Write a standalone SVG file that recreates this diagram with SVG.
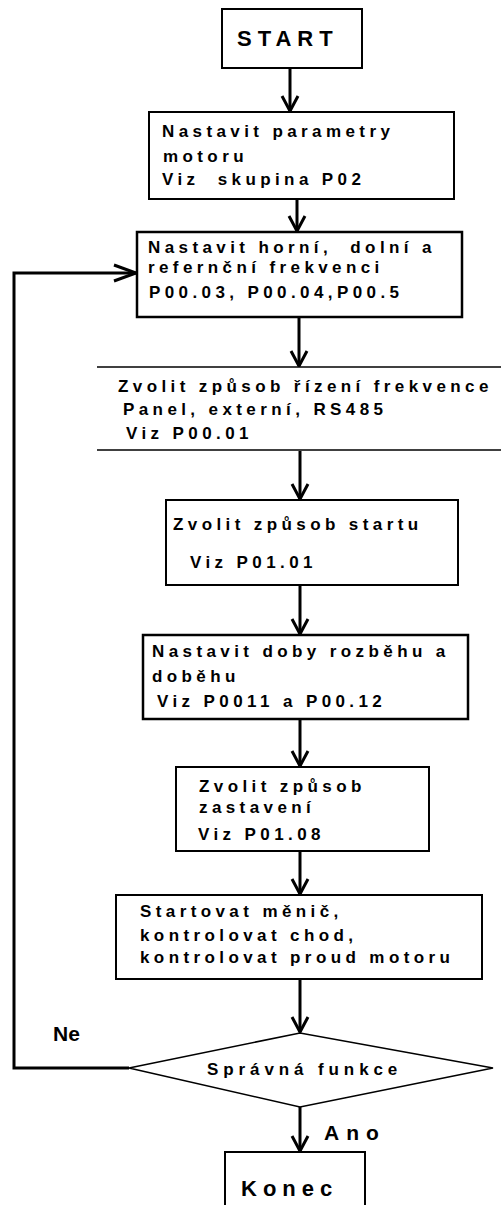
<svg xmlns="http://www.w3.org/2000/svg" width="501" height="1205" viewBox="0 0 501 1205">
<style>
.bx{fill:#fff;stroke:#000;stroke-width:2}
.ln{fill:none;stroke:#000;stroke-width:1.6}
.t{font-family:"Liberation Sans",Arial,sans-serif;font-weight:bold;font-size:17px;letter-spacing:4.4px;fill:#000;white-space:pre}
.big{font-size:22px;letter-spacing:6px}
.c{fill:none;stroke:#000;stroke-width:3}
</style>
<defs>
<marker id="ah" markerUnits="userSpaceOnUse" markerWidth="40" markerHeight="40" refX="16" refY="9" orient="auto" overflow="visible">
<path d="M1,1 L16,9 L1,17" fill="none" stroke="#000" stroke-width="3"/>
</marker>
<marker id="ahl" markerUnits="userSpaceOnUse" markerWidth="40" markerHeight="40" refX="23" refY="9" orient="auto" overflow="visible">
<path d="M1,1 L23,9 L1,17" fill="none" stroke="#000" stroke-width="3"/>
</marker>
</defs>
<rect width="501" height="1205" fill="#fff"/>
<g id="connectors">
<line class="c" x1="290" y1="68" x2="290" y2="111" marker-end="url(#ah)"/>
<line class="c" x1="297" y1="199" x2="297" y2="231" marker-end="url(#ah)"/>
<line class="c" x1="299" y1="317" x2="299" y2="366" marker-end="url(#ah)"/>
<line class="c" x1="300" y1="451" x2="300" y2="499" marker-end="url(#ah)"/>
<line class="c" x1="300" y1="585" x2="300" y2="634" marker-end="url(#ah)"/>
<line class="c" x1="300" y1="719" x2="300" y2="766" marker-end="url(#ah)"/>
<line class="c" x1="300" y1="851" x2="300" y2="894" marker-end="url(#ah)"/>
<line class="c" x1="300" y1="979" x2="300" y2="1032" marker-end="url(#ah)"/>
<line class="c" x1="300" y1="1107" x2="300" y2="1151" marker-end="url(#ah)"/>
<polyline class="c" points="129,1068 14,1068 14,273 136,273" marker-end="url(#ahl)"/>
<text class="t" x="53" y="1041" style="font-size:21px;letter-spacing:0">Ne</text>
<text class="t" x="324" y="1140" style="font-size:21px;letter-spacing:7px">Ano</text>
</g>
<g id="start">
<rect class="bx" x="222" y="9" width="140" height="59"/>
<text class="t big" x="237" y="46">START</text>
</g>
<g id="motor">
<rect class="bx" x="149" y="112" width="305" height="87"/>
<text class="t" x="162" y="137">Nastavit parametry</text>
<text class="t" x="163" y="162">motoru</text>
<text class="t" x="162" y="185">Viz  skupina P02</text>
</g>
<g id="freq">
<rect class="bx" x="137" y="232" width="325" height="85" style="stroke-width:2.5"/>
<text class="t" x="148" y="253">Nastavit horní,  dolní a</text>
<text class="t" x="148" y="273">refernční frekvenci</text>
<text class="t" x="149" y="298">P00.03, P00.04,P00.5</text>
</g>
<g id="control">
<rect x="97" y="367" width="410" height="83" fill="#fff"/>
<line class="ln" x1="97" y1="367" x2="501" y2="367"/>
<line class="ln" x1="97" y1="450" x2="501" y2="450"/>
<text class="t" x="118" y="392">Zvolit způsob řízení frekvence</text>
<text class="t" x="123" y="415">Panel, externí, RS485</text>
<text class="t" x="126" y="439">Viz P00.01</text>
</g>
<g id="startmode">
<rect class="bx" x="166" y="500" width="292" height="85"/>
<text class="t" x="173" y="530">Zvolit způsob startu</text>
<text class="t" x="190" y="568">Viz P01.01</text>
</g>
<g id="ramp">
<rect class="bx" x="143" y="635" width="325" height="84" style="stroke-width:2.5"/>
<text class="t" x="152" y="657">Nastavit doby rozběhu a</text>
<text class="t" x="152" y="682">doběhu</text>
<text class="t" x="157" y="707">Viz P0011 a P00.12</text>
</g>
<g id="stop">
<rect class="bx" x="176" y="767" width="253" height="84"/>
<text class="t" x="199" y="792">Zvolit způsob</text>
<text class="t" x="199" y="813">zastavení</text>
<text class="t" x="198" y="840">Viz P01.08</text>
</g>
<g id="run">
<rect class="bx" x="116" y="895" width="366" height="84"/>
<text class="t" x="140" y="917">Startovat měnič,</text>
<text class="t" x="140" y="941">kontrolovat chod,</text>
<text class="t" x="140" y="963">kontrolovat proud motoru</text>
</g>
<g id="check">
<polygon class="ln" points="129,1068 300,1033 493,1068 300,1107" style="fill:#fff"/>
<text class="t" x="207" y="1075" style="letter-spacing:4.9px">Správná funkce</text>
</g>
<g id="end">
<rect class="bx" x="225" y="1152" width="140" height="70"/>
<text class="t big" x="241" y="1196">Konec</text>
</g>
</svg>
